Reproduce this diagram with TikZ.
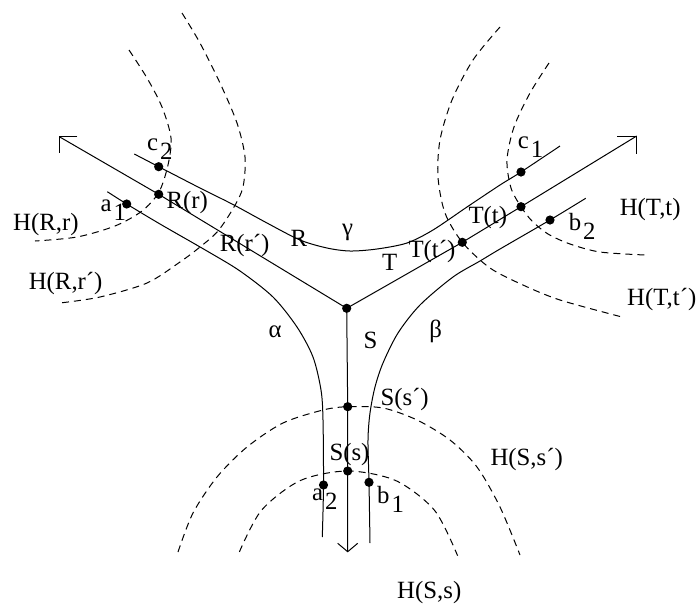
\documentclass[tikz,border=0pt]{standalone}
\usepackage{fontspec}
\setmainfont{Liberation Serif}
\usepackage{tikz}

\newcommand{\lowidx}[2]{#1\kern1pt\raisebox{-4.5pt}{#2}}

\begin{document}
\begin{tikzpicture}[x=0.5pt, y=-0.5pt, line width=0.5pt,
    font=\fontsize{12.4}{14}\selectfont,
    lbl/.style={anchor=base west, inner sep=0pt},
    horo/.style={dash pattern=on 3.5pt off 2.5pt}]
    % Units are pixels of the original figure, y pointing down.
    \useasboundingbox (0,0) rectangle (698,606);
    \def\dotr{2.3pt}

    % Centre of the tripod and the ends of its three rays
    \coordinate (V) at (346.7,308.3);
    \coordinate (endR) at (59.3,136.7);
    \coordinate (endT) at (636.7,136);
    \coordinate (endS) at (347.7,551.7);

    % Barb ends of the open arrow heads
    \coordinate (endRh) at (77.3,136.7);
    \coordinate (endRv) at (59.3,153.3);
    \coordinate (endTh) at (617.3,136);
    \coordinate (endTv) at (636.7,154);
    \coordinate (endSl) at (337.7,543.3);
    \coordinate (endSr) at (357.7,543.3);

    % Points on the rays
    \coordinate (Rr) at (158.7,194.3);
    \coordinate (Tt) at (521,206.7);
    \coordinate (Ttp) at (462.3,242.3);
    \coordinate (Ssp) at (347.7,406.7);
    \coordinate (Ss) at (347.7,471);

    % Points on the curves alpha, beta, gamma
    \coordinate (a1) at (126.7,204);
    \coordinate (a2) at (323.5,485);
    \coordinate (b1) at (369,482.3);
    \coordinate (b2) at (550,220);
    \coordinate (c1) at (521,172);
    \coordinate (c2) at (158.7,166.7);

    % Tripod R, T, S with open arrow heads
    \draw (endR) -- (Rr) -- (V) -- (Ttp) -- (Tt) -- (endT);
    \draw (V) -- (Ssp) -- (Ss) -- (endS);
    \draw (endRh) -- (endR) -- (endRv);
    \draw (endTh) -- (endT) -- (endTv);
    \draw (endSl) -- (endS) -- (endSr);

    % Curve gamma between R and T
    \draw plot[smooth] coordinates {(134.3,154) (c2) (200,188) (233,204.5) (267,223)
        (300,240) (327,248) (350,251) (377,249) (407,243) (433,230) (467,207)
        (500,185) (c1) (560,146)};

    % Curve alpha between R and S
    \draw plot[smooth] coordinates {(107.3,191.7) (a1) (160,224) (207,251) (240,271)
        (273,297) (297,327) (313,357) (321,390) (323,420) (a2) (322.3,537)};

    % Curve beta between T and S
    \draw plot[smooth] coordinates {(585.7,198.3) (b2) (500,249) (480,261) (453,277)
        (420,305) (398,333) (383,363) (375,387) (370,413) (368,440) (b1) (370,543)};

    % Horoball boundaries about the end of R
    \draw[horo] plot[smooth] coordinates {(129,50) (147,78) (162,107) (171,138) (168,165)
        (159,192) (142,211) (115,226) (77,237) (35,241)};
    \draw[horo] plot[smooth] coordinates {(182,13) (200,43) (220,83) (237,123) (245,157)
        (243,187) (234,207) (218,231) (200,247) (180,262) (147,283) (100,297) (60,303)};

    % Horoball boundaries about the end of T
    \draw[horo] plot[smooth] coordinates {(549,63) (530,93) (514,127) (507,160) (511,188)
        (Tt) (532,221) (548,234) (570,244) (600,252) (645,255)};
    \draw[horo] plot[smooth] coordinates {(500,27) (473,60) (452,100) (440,140) (438,177)
        (445,213) (Ttp) (490,268) (523,285) (560,300) (622,317)};

    % Horoball boundaries about the end of S
    \draw[horo] plot[smooth] coordinates {(239.4,551.9) (261.4,510.4) (300.2,480.6) (Ss)
        (395.8,480.6) (434.6,510.4) (457.6,555.7)};
    \draw[horo] plot[smooth] coordinates {(178,552) (193,513) (217,477) (247,447) (283,423)
        (323,410) (Ssp) (383,408) (417,420) (450,440) (477,467) (500,507) (520,555)};

    % Marked points
    \foreach \p in {V,Rr,Tt,Ttp,Ssp,Ss,a1,a2,b1,b2,c1,c2}
        \fill (\p) circle (\dotr);

    % Labels
    \node[lbl] (lc2) at (146.7,150) {\lowidx{c}{2}};
    \node[lbl] (lRr) at (166,208) {R(r)};
    \node[lbl] (la1) at (100,211.7) {\lowidx{a}{1}};
    \node[lbl] (lHRr) at (12.7,230) {H(R,r)};
    \node[lbl] (lHRrp) at (28.3,289.3) {H(R,r´)};
    \node[lbl] (lRrp) at (219.3,251.7) {R(r´)};
    \node[lbl] (lR) at (290,246) {R};
    \node[lbl] (lgamma) at (341.7,235) {γ};
    \node[lbl] (lT) at (381.7,270) {T};
    \node[lbl] (lTtp) at (408,257) {T(t´)};
    \node[lbl] (lTt) at (468,223.5) {T(t)};
    \node[lbl] (lc1) at (517.3,148.3) {\lowidx{c}{1}};
    \node[lbl] (lb2) at (568.3,230) {\lowidx{b}{2}};
    \node[lbl] (lHTt) at (619.3,215) {H(T,t)};
    \node[lbl] (lHTtp) at (626.7,305) {H(T,t´)};
    \node[lbl] (lalpha) at (268,337) {α};
    \node[lbl] (lS) at (363,348) {S};
    \node[lbl] (lbeta) at (429,337) {β};
    \node[lbl] (lSsp) at (380,405) {S(s´)};
    \node[lbl] (lSs) at (329,460) {S(s)};
    \node[lbl] (la2) at (311.7,500) {\lowidx{a}{2}};
    \node[lbl] (lb1) at (376.7,503) {\lowidx{b}{1}};
    \node[lbl] (lHSsp) at (490,465.5) {H(S,s´)};
    \node[lbl] (lHSs) at (396.7,598) {H(S,s)};
\end{tikzpicture}
\end{document}
